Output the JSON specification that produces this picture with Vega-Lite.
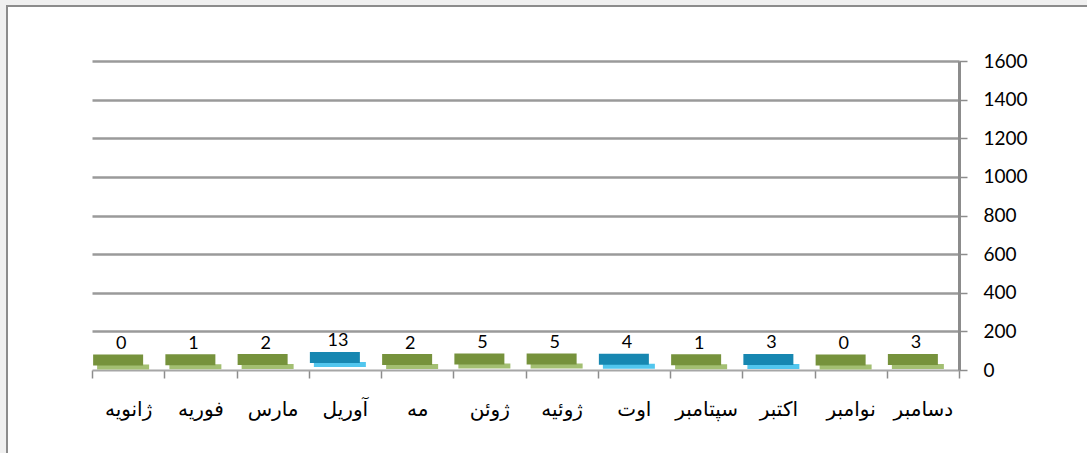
{
  "$schema": "https://vega.github.io/schema/vega-lite/v6.json",
  "autosize": {"type": "none"},
  "padding": {"left": 7, "top": 6, "right": 0, "bottom": 0},
  "width": 1081,
  "height": 448,
  "background": "#f0f0f0",
  "config": {
    "view": {"fill": "white", "stroke": "#8c8c8c", "strokeWidth": 2},
    "font": "Lato"
  },
  "data": {
    "values": [
      {"month": "ژانویه", "count": 0},
      {"month": "فوریه", "count": 1},
      {"month": "مارس", "count": 2},
      {"month": "آوریل", "count": 13},
      {"month": "مه", "count": 2},
      {"month": "ژوئن", "count": 5},
      {"month": "ژوئیه", "count": 5},
      {"month": "اوت", "count": 4},
      {"month": "سپتامبر", "count": 1},
      {"month": "اکتبر", "count": 3},
      {"month": "نوامبر", "count": 0},
      {"month": "دسامبر", "count": 3}
    ]
  },
  "resolve": {"axis": {"y": "independent"}},
  "encoding": {
    "x": {
      "field": "month",
      "type": "nominal",
      "sort": null,
      "scale": {"range": [85, 952], "paddingInner": 0, "paddingOuter": 0},
      "axis": {
        "orient": "bottom",
        "offset": -84,
        "title": null,
        "labelAngle": 0,
        "labelFont": "DejaVu Sans",
        "labelFontSize": 20,
        "labelColor": "#000000",
        "labelPadding": 21,
        "tickBand": "extent",
        "tickSize": 8,
        "tickColor": "#8c8c8c",
        "tickWidth": 1.5,
        "domainColor": "#a6a6a6",
        "domainWidth": 2,
        "grid": false
      }
    }
  },
  "layer": [
    {
      "mark": {"type": "tick", "thickness": 5, "size": 52, "yOffset": -3, "xOffset": -5, "opacity": 1},
      "encoding": {
        "y": {
          "field": "count",
          "type": "quantitative",
          "scale": {"domain": [0, 1600], "range": [364, 55], "nice": false},
          "axis": {
            "orient": "left",
            "title": null,
            "values": [200, 400, 600, 800, 1000, 1200, 1400, 1600],
            "labels": false,
            "ticks": false,
            "domain": false,
            "grid": true,
            "gridColor": "#9a9a9a",
            "gridWidth": 2.5
          }
        },
        "color": {
          "condition": {"test": "indexof(['آوریل','اوت','اکتبر'], datum.month) >= 0", "value": "#52c6ee"},
          "value": "#a3bf72"
        }
      }
    },
    {
      "mark": {"type": "tick", "thickness": 11, "size": 50, "yOffset": -10, "xOffset": -10, "opacity": 1},
      "encoding": {
        "y": {
          "field": "count",
          "type": "quantitative",
          "scale": {"domain": [0, 1600], "range": [364, 55], "nice": false},
          "axis": {
            "orient": "right",
            "offset": -129,
            "title": null,
            "format": "d",
            "values": [0, 200, 400, 600, 800, 1000, 1200, 1400, 1600],
            "labelFont": "Lato",
            "labelFontSize": 19,
            "labelColor": "#000000",
            "labelPadding": 16,
            "tickSize": 8,
            "tickColor": "#8c8c8c",
            "tickWidth": 1.5,
            "domainColor": "#8c8c8c",
            "domainWidth": 3,
            "grid": false
          }
        },
        "color": {
          "condition": {"test": "indexof(['آوریل','اوت','اکتبر'], datum.month) >= 0", "value": "#1787b1"},
          "value": "#76923c"
        }
      }
    },
    {
      "mark": {"type": "text", "dy": -26, "xOffset": -7, "fontSize": 18, "font": "Lato", "color": "#000000"},
      "encoding": {
        "y": {
          "field": "count",
          "type": "quantitative",
          "scale": {"domain": [0, 1600], "range": [364, 55], "nice": false},
          "axis": null
        },
        "text": {"field": "count", "type": "quantitative"}
      }
    }
  ]
}
